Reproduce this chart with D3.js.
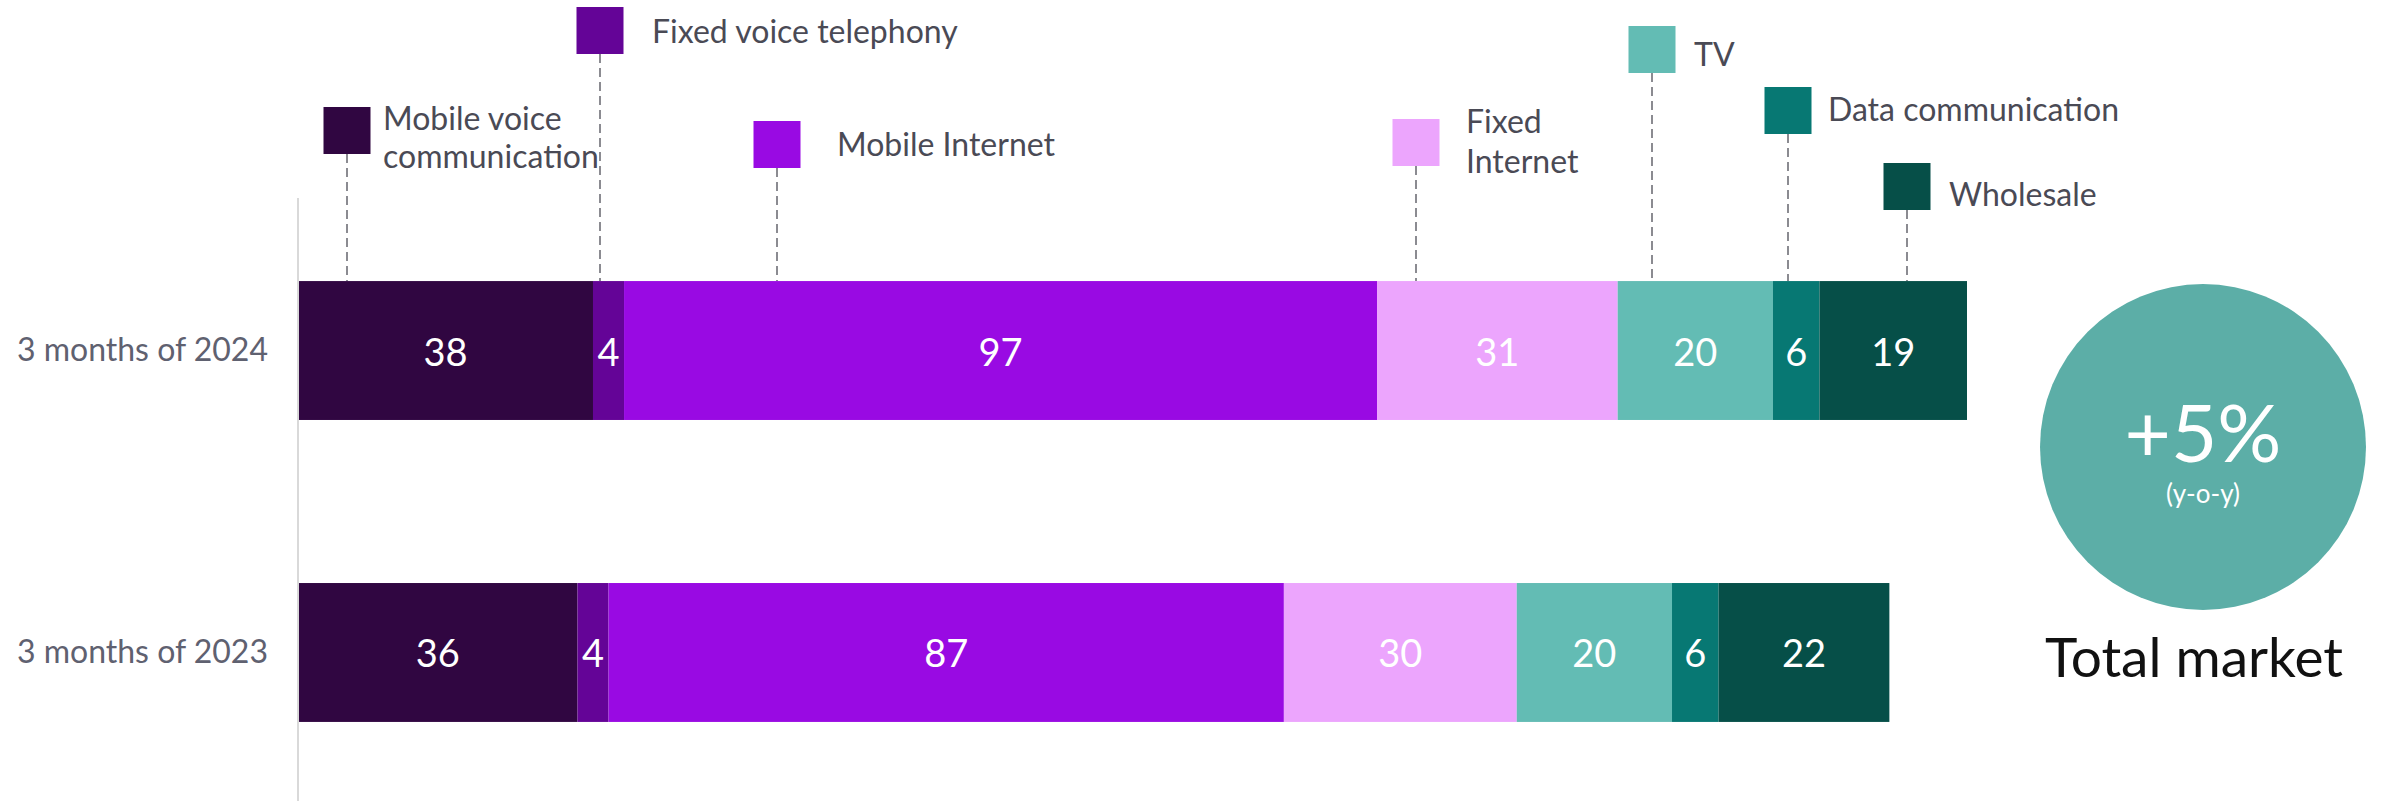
<!DOCTYPE html>
<html>
<head>
<meta charset="utf-8">
<script src="https://cdn.jsdelivr.net/npm/d3@7"></script>
<style>
  html, body { margin: 0; padding: 0; background: #fff; }
  svg { display: block; }
  text { font-family: Lato, "Open Sans", sans-serif; }
</style>
</head>
<body>
<svg id="chart" width="2392" height="801"></svg>
<script>
// ---- data ----
const categories = ["3 months of 2024", "3 months of 2023"];
const seriesNames = ["Mobile voice communication", "Fixed voice telephony", "Mobile Internet",
                     "Fixed Internet", "TV", "Data communication", "Wholesale"];
const values2024 = [38, 4, 97, 31, 20, 6, 19];
const values2023 = [36, 4, 87, 30, 20, 6, 22];
const seriesColors = ["#300641", "#640497", "#990ae3", "#eca5fd", "#63bcb4", "#077873", "#064f48"];
const totalChange = "+5%";
const totalChangeNote = "(y-o-y)";
const totalLabel = "Total market";

// ---- layout (pixels, not data) ----
const legendLayout = [
  { lx: 347,  top: 107, tx: 383,  lines: ["Mobile voice", "communication"], ty: [117, 155] },
  { lx: 600,  top: 7,   tx: 652,  lines: ["Fixed voice telephony"], ty: [30] },
  { lx: 777,  top: 121, tx: 837,  lines: ["Mobile Internet"], ty: [143] },
  { lx: 1416, top: 119, tx: 1466, lines: ["Fixed", "Internet"], ty: [120, 160] },
  { lx: 1652, top: 26,  tx: 1694, lines: ["TV"], ty: [53] },
  { lx: 1788, top: 87,  tx: 1828, lines: ["Data communication"], ty: [108] },
  { lx: 1907, top: 163, tx: 1949, lines: ["Wholesale"], ty: [193] }
];

const rows = [values2024, values2023];
const svg = d3.select("#chart");

const x = d3.scaleLinear().domain([0, 215]).range([298, 1967]);
const y = d3.scaleBand().domain(categories).range([118, 885]).paddingInner(0.54).paddingOuter(0.54);

const stackData = categories.map((c, i) => {
  let acc = 0;
  return rows[i].map((v, j) => { const d = { cat: c, s: j, v, x0: acc, x1: acc + v }; acc += v; return d; });
});

// legend leader lines
const sq = 47;
const topBarY = y(categories[0]);
svg.append("g").selectAll("line").data(legendLayout).join("line")
  .attr("x1", d => d.lx).attr("x2", d => d.lx)
  .attr("y1", d => d.top + sq).attr("y2", topBarY)
  .attr("stroke", "#66666e").attr("stroke-width", 1.5).attr("stroke-dasharray", "9,5");

// legend squares
svg.append("g").selectAll("rect").data(legendLayout).join("rect")
  .attr("x", d => d.lx - sq / 2).attr("y", d => d.top)
  .attr("width", sq).attr("height", sq)
  .attr("fill", (d, i) => seriesColors[i]);

// legend labels
const lg = svg.append("g");
legendLayout.forEach((d, i) => {
  d.lines.forEach((t, k) => {
    lg.append("text").attr("x", d.tx).attr("y", d.ty[k])
      .attr("dominant-baseline", "central")
      .attr("font-size", 32).attr("fill", "#4a4a55").text(t);
  });
});

// bars
const barG = svg.append("g");
stackData.forEach(row => {
  const g = barG.append("g");
  g.selectAll("rect").data(row).join("rect")
    .attr("x", d => x(d.x0)).attr("y", d => y(d.cat))
    .attr("width", d => x(d.x1) - x(d.x0)).attr("height", y.bandwidth())
    .attr("fill", d => seriesColors[d.s]);
  g.selectAll("text").data(row).join("text")
    .attr("x", d => (x(d.x0) + x(d.x1)) / 2)
    .attr("y", d => y(d.cat) + y.bandwidth() / 2)
    .attr("text-anchor", "middle").attr("dominant-baseline", "central")
    .attr("font-size", 38).attr("fill", "#fff").text(d => d.v);
});

// axis
const axis = d3.axisLeft(y).tickSize(0).tickPadding(30);
const ag = svg.append("g").attr("transform", `translate(${x(0)},0)`).call(axis);
ag.select(".domain").remove();
ag.selectAll("text").attr("font-size", 32).attr("fill", "#5f6170")
  .attr("font-family", "Lato, 'Open Sans', sans-serif");
svg.append("line").attr("x1", x(0)).attr("x2", x(0)).attr("y1", 198).attr("y2", 801)
  .attr("stroke", "#d9d9d9").attr("stroke-width", 2);

// total market circle
const cx = 2203, cy = 447, r = 163;
svg.append("circle").attr("cx", cx).attr("cy", cy).attr("r", r).attr("fill", "#5caea7");
svg.append("text").attr("x", cx).attr("y", 462).attr("text-anchor", "middle")
  .attr("font-size", 80).attr("fill", "#fff").text(totalChange);
svg.append("text").attr("x", cx).attr("y", 503).attr("text-anchor", "middle")
  .attr("font-size", 26).attr("fill", "#fff").text(totalChangeNote);
svg.append("text").attr("x", cx - 9).attr("y", 677).attr("text-anchor", "middle")
  .attr("font-size", 55).attr("fill", "#111").text(totalLabel);
</script>
</body>
</html>
